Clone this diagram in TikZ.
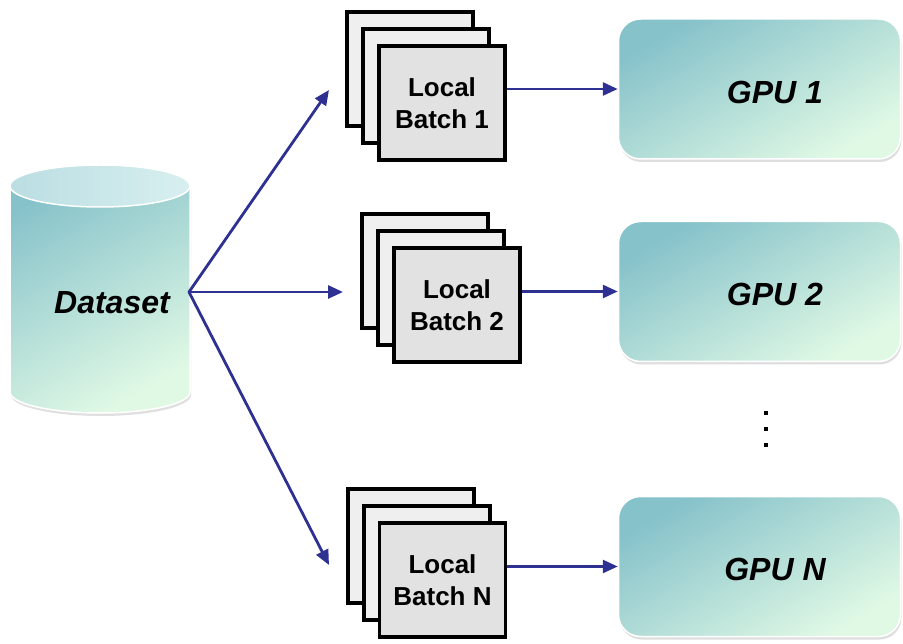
\documentclass[tikz,border=0pt]{standalone}
\usepackage{fontspec}
\setmainfont{Liberation Sans}
\usetikzlibrary{arrows.meta,shadows}
\definecolor{tealdark}{HTML}{86C2CA}
\definecolor{mintlight}{HTML}{E0F9E5}
\definecolor{capA}{HTML}{BBDEE2}
\definecolor{capB}{HTML}{D8EFF0}
\definecolor{flowblue}{HTML}{2E3192}
\definecolor{sheetback}{HTML}{EFEFEF}
\definecolor{sheetfront}{HTML}{E2E2E2}

\tikzset{
  flow/.style={draw=flowblue, line width=2.8pt, line cap=round,
    -{Triangle[length=15pt,width=13pt]}},
  sheet/.style={draw=black, line width=3.8pt, minimum width=126pt,
    minimum height=114pt, inner sep=0pt},
  backsheet/.style={sheet, fill=sheetback},
  frontsheet/.style={sheet, fill=sheetfront, align=center,
    font=\fontsize{26}{32}\selectfont\bfseries},
  gpubox/.style={draw=white, line width=1.5pt, rounded corners=22pt,
    minimum width=282pt, minimum height=140pt,
    top color=tealdark, bottom color=mintlight, shading angle=30,
    drop shadow={shadow xshift=1pt, shadow yshift=-3pt, fill=black!13, opacity=1}},
  title/.style={font=\fontsize{32}{38}\selectfont\bfseries\itshape, inner sep=0pt},
}

\begin{document}
\begin{tikzpicture}[x=1pt,y=-1pt]
\useasboundingbox (0,0) rectangle (903,644);

% dataset cylinder: shadow, body, top cap
\fill[black!12] (11,189) -- (11,395)
  arc[start angle=180, end angle=360, x radius=90pt, y radius=21pt]
  -- (191,189) -- cycle;
\path[top color=tealdark, bottom color=mintlight, shading angle=30,
      draw=white, line width=1.5pt]
  (10,186) -- (10,392)
  arc[start angle=180, end angle=360, x radius=90pt, y radius=21pt]
  -- (190,186)
  arc[start angle=0, end angle=180, x radius=90pt, y radius=21pt] -- cycle;
\path[left color=capA, right color=capB, draw=white, line width=1.5pt]
  (100,186) ellipse [x radius=90pt, y radius=21pt];
\node[title] (dataset) at (112,303) {Dataset};

% stacks of local batches
\node[backsheet] (b1back) at (410,69) {};
\node[backsheet] (b1mid) at (426,86) {};
\node[frontsheet] (batch1) at (442,103) {Local\\Batch 1};

\node[backsheet] (b2back) at (425,271) {};
\node[backsheet] (b2mid) at (441,288) {};
\node[frontsheet] (batch2) at (457,305) {Local\\Batch 2};

\node[backsheet] (bNback) at (411,546) {};
\node[backsheet] (bNmid) at (427,563) {};
\node[frontsheet] (batchN) at (442.5,580) {Local\\Batch N};

% GPUs
\node[gpubox] (gpu1) at (759.5,89) {};
\node[title] (gpu1label) at (775,92) {GPU 1};
\node[gpubox] (gpu2) at (759.5,291.5) {};
\node[title] (gpu2label) at (775,294) {GPU 2};
\node[gpubox] (gpuN) at (759.5,566.5) {};
\node[title] (gpuNlabel) at (775,569) {GPU N};

% vertical ellipsis
\foreach \y in {411,427,443} \fill[black] (764,\y) rectangle +(4,4);

% distribution arrows
\coordinate (fork) at (189,292);
\coordinate (tip1) at (329,90);
\coordinate (tip2) at (343,292);
\coordinate (tipN) at (329,565);
\draw[flow] (fork) -- (tip1);
\draw[flow] (fork) -- (tip2);
\draw[flow] (fork) -- (tipN);

\draw[flow, line cap=butt] (batch1.east |- gpu1.west) -- (gpu1.west);
\draw[flow, line cap=butt] (batch2.east |- gpu2.west) -- (gpu2.west);
\draw[flow, line cap=butt] (batchN.east |- gpuN.west) -- (gpuN.west);
\end{tikzpicture}
\end{document}
